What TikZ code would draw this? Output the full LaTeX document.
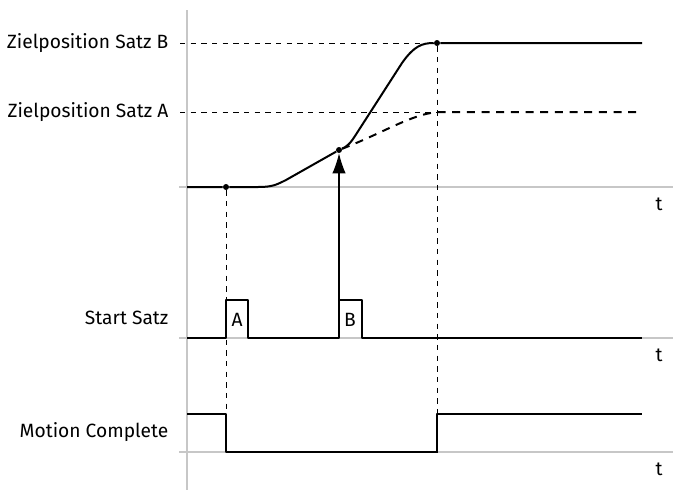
\documentclass[tikz,border=0pt]{standalone}
\usepackage{fontspec}
\setmainfont{Fira Sans}
\usetikzlibrary{arrows.meta}

\begin{document}
\begin{tikzpicture}[x=0.75pt, y=-0.75pt,
                    axis line/.style={draw=black!22, line width=1.3pt},
                    base line/.style={draw=black!22, line width=0.9pt},
                    signal/.style={line width=1.5pt, line join=round},
                    guide/.style={dash pattern=on 4pt off 4pt, line width=0.6pt},
                    plan line/.style={signal, dash pattern=on 6pt off 5pt},
                    dot/.style={circle, fill, inner sep=0pt, minimum size=4.5pt},
                    name node/.style={anchor=east, font=\fontsize{14.4}{16}\selectfont},
                    time node/.style={font=\fontsize{14.4}{16}\selectfont}]

  \useasboundingbox (0,0) rectangle (673,490);

  % axes
  \draw[axis line] (187,10) -- (187,490);
  \draw[base line] (179,187) -- (673,187);
  \draw[base line] (179,338) -- (673,338);
  \draw[base line] (179,452) -- (673,452);

  % points on the position curve
  \node[dot] (start) at (226,187) {};
  \node[dot] (switch) at (339,150) {};
  \node[dot] (reach) at (437,43) {};

  \coordinate (posB) at (180,43);
  \coordinate (posA) at (180,112);
  \coordinate (endA) at (437,112);
  \coordinate (startlow) at (226,452);
  \coordinate (reachlow) at (437,452);

  % guides
  \draw[guide] (posB) -- (reach);
  \draw[guide] (posA) -- (endA);
  \draw[guide] (start) -- (startlow);
  \draw[guide] (reach) -- (reachlow);

  % position
  \draw[signal] (187,187) -- (start) -- (258,187)
    .. controls (272,187) and (276,185) .. (286,180) -- (switch)
    .. controls (346,147) and (350,144) .. (355,136) -- (402,63)
    .. controls (414,46) and (422,43) .. (reach) -- (642,43);
  \draw[plan line] (switch) .. controls (385,132) and (410,115) .. (endA) -- (642,112);

  % start signal
  \coordinate (pulseA) at (226,300);
  \coordinate (pulseB) at (339,300);
  \draw[signal] (187,338) -- (226,338) -- (pulseA) -- (248,300) -- (248,338)
    -- (339,338) -- (pulseB) -- (362,300) -- (362,338) -- (642,338);
  \node[time node] at (237,320) {A};
  \node[time node] at (350,320) {B};
  \draw[line width=0.8pt, -{Latex[length=15pt, width=10pt]}] (pulseB) -- (switch);

  % motion complete
  \draw[signal] (187,414) -- (226,414) -- (startlow) -- (reachlow) -- (437,414) -- (642,414);

  % labels
  \node[name node] at (173,43) {Zielposition Satz B};
  \node[name node] at (173,112) {Zielposition Satz A};
  \node[name node] at (173,318) {Start Satz};
  \node[name node] at (173,432) {Motion Complete};
  \node[time node] at (659,204) {t};
  \node[time node] at (659,355) {t};
  \node[time node] at (659,469) {t};

\end{tikzpicture}
\end{document}
